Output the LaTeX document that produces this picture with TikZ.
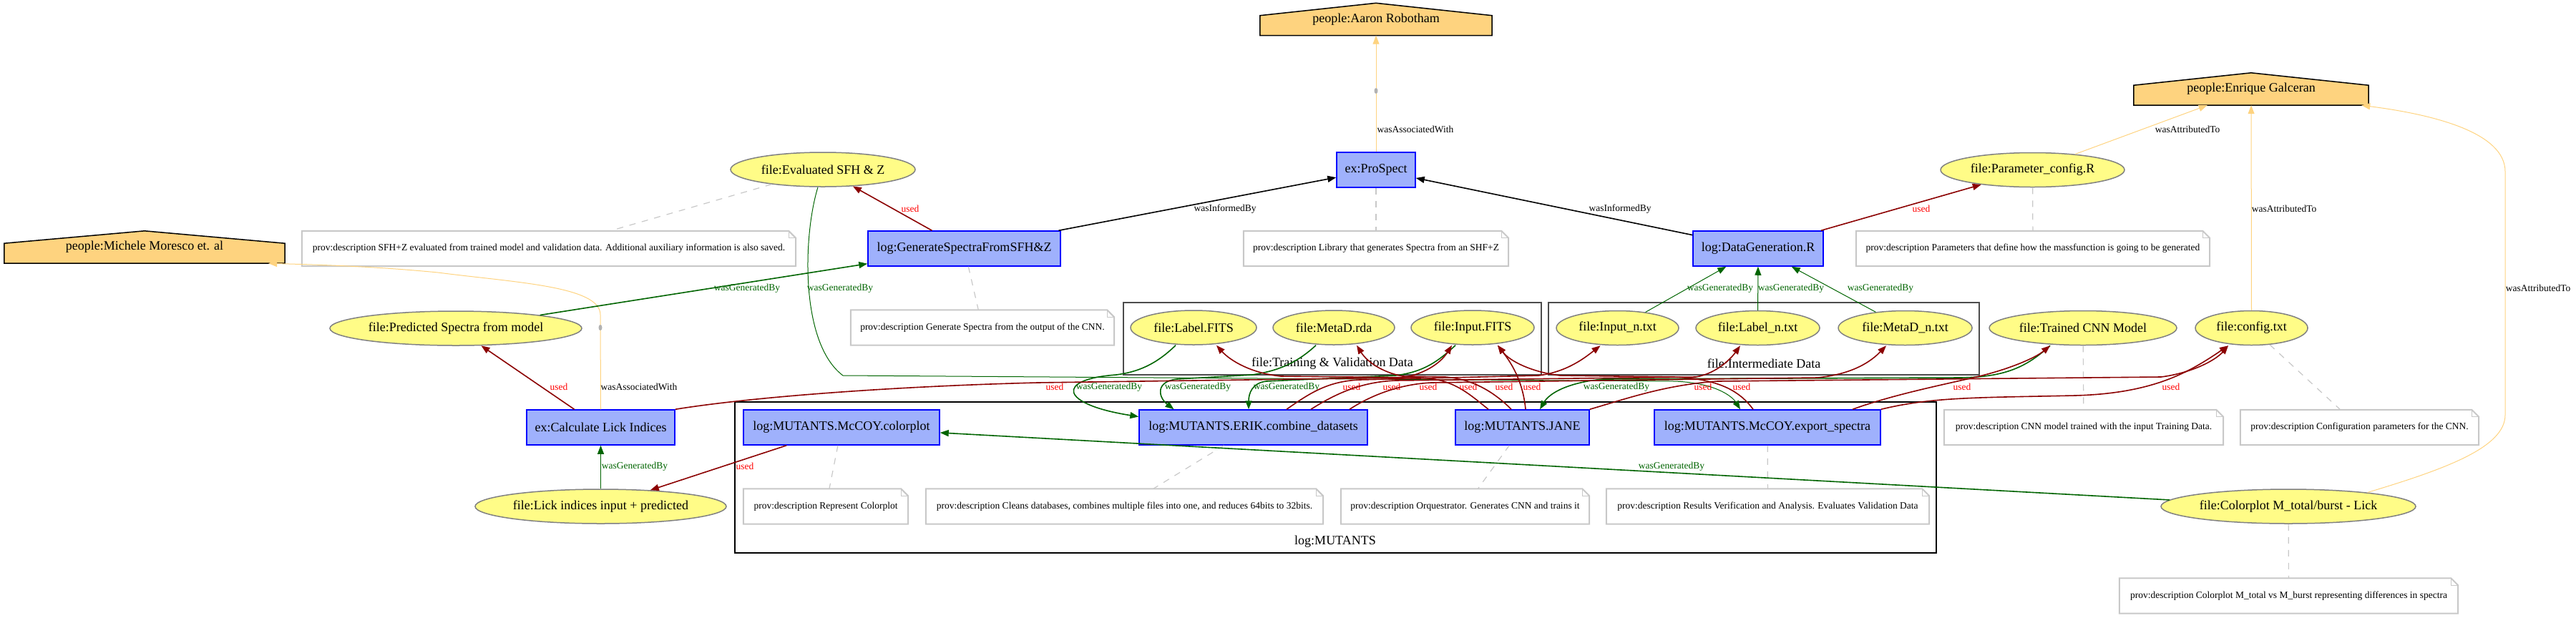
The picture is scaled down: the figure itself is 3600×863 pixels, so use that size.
\documentclass[tikz,border=0pt]{standalone}
\usepackage{fontspec}
\setmainfont{Liberation Serif}
\usetikzlibrary{arrows.meta,shapes.geometric,backgrounds}
\definecolor{actblue}{HTML}{9FB1FC}
\definecolor{entyellow}{HTML}{FFFC87}
\definecolor{agentorange}{HTML}{FED37F}
\definecolor{gendgreen}{HTML}{006400}
\definecolor{usedred}{HTML}{8B0000}
\definecolor{notegray}{HTML}{C8C8C8}
\newcommand{\nodefont}{\fontsize{18}{20}\selectfont}
\newcommand{\lblfont}{\fontsize{13.5}{15}\selectfont}

\begin{document}
\begin{tikzpicture}[
  x=1pt, y=-1pt,
  activity/.style={draw=blue, line width=1.5pt, fill=actblue, minimum height=49pt, inner xsep=8pt, font=\nodefont},
  entity/.style={ellipse, draw=gray, line width=1.5pt, fill=entyellow, minimum height=48pt, inner sep=0pt, font=\nodefont},
  agentbox/.style={minimum height=45pt, inner sep=0pt, font=\nodefont},
  notebox/.style={minimum height=49pt, inner xsep=8pt, font=\lblfont},
  noteline/.style={draw=notegray, line width=2pt},
  noteedge/.style={notegray, dash pattern=on 9pt off 9pt, line width=1.2pt},
  cluster/.style={draw=black!70, line width=2.5pt},
  arr/.style={-{Triangle[length=12pt,width=9pt]}, line width=1.6pt},
  gen/.style={arr, gendgreen},
  used/.style={arr, usedred},
  inf/.style={arr, black},
  assoc/.style={arr, agentorange, line width=1pt},
  glbl/.style={font=\lblfont, text=gendgreen},
  ulbl/.style={font=\lblfont, text=red},
  klbl/.style={font=\lblfont, text=black},
]
  \useasboundingbox (0,0) rectangle (3600,863);

  % Clusters
  \draw[cluster] (1570,423) rectangle (2154,524);
  \node[font=\nodefont] (tvtitle) at (1862,508) {file:Training \& Validation Data};
  \draw[cluster] (2164,423) rectangle (2766,524);
  \node[font=\nodefont] (imtitle) at (2465,508) {file:Intermediate Data};
  \draw[black, line width=2pt] (1027,562) rectangle (2706,773);
  \node[font=\nodefont] (mutitle) at (1866,757) {log:MUTANTS};

  % Agents
  \node[agentbox, minimum width=324pt] (aaron) at (1923,27) {people:Aaron Robotham};
  \node[agentbox, minimum width=328pt] (enrique) at (3146,124.5) {people:Enrique Galceran};
  \node[agentbox, minimum width=392pt] (michele) at (202,345.5) {people:Michele Moresco et. al};
  \begin{scope}[on background layer]
    \foreach \a in {aaron,enrique,michele}
      \filldraw[fill=agentorange, draw=black, line width=1.5pt] (\a.south west) -- ([yshift=28pt]\a.south west) -- (\a.north) -- ([yshift=28pt]\a.south east) -- (\a.south east) -- cycle;
  \end{scope}

  % Activities
  \node[activity, minimum width=110pt] (prospect) at (1923,237.5) {ex:ProSpect};
  \node[activity, minimum width=269pt] (genspec) at (1347.5,347.5) {log:GenerateSpectraFromSFH\&Z};
  \node[activity, minimum width=182pt] (datagen) at (2457,347.5) {log:DataGeneration.R};
  \node[activity, minimum width=207pt] (calclick) at (839.5,597.5) {ex:Calculate Lick Indices};
  \node[activity, minimum width=274pt] (colorplot) at (1176,597.5) {log:MUTANTS.McCOY.colorplot};
  \node[activity, minimum width=319pt] (erik) at (1751.5,597.5) {log:MUTANTS.ERIK.combine\_datasets};
  \node[activity, minimum width=187pt] (jane) at (2127.5,597.5) {log:MUTANTS.JANE};
  \node[activity, minimum width=316pt] (exportsp) at (2470,597.5) {log:MUTANTS.McCOY.export\_spectra};

  % Entities
  \node[entity, minimum width=258pt] (evalsfh) at (1150,237) {file:Evaluated SFH \& Z};
  \node[entity, minimum width=352pt] (predspec) at (637,459) {file:Predicted Spectra from model};
  \node[entity, minimum width=351pt] (lickidx) at (839.5,708) {file:Lick indices input + predicted};
  \node[entity, minimum width=257pt] (paramcfg) at (2840.5,237.5) {file:Parameter\_config.R};
  \node[entity, minimum width=176pt] (labelfits) at (1668,458) {file:Label.FITS};
  \node[entity, minimum width=170pt] (metadrda) at (1864,458) {file:MetaD.rda};
  \node[entity, minimum width=172pt] (inputfits) at (2058,458) {file:Input.FITS};
  \node[entity, minimum width=171pt] (inputn) at (2260.5,458.5) {file:Input\_n.txt};
  \node[entity, minimum width=173pt] (labeln) at (2456.5,458.5) {file:Label\_n.txt};
  \node[entity, minimum width=187pt] (metadn) at (2662.5,458.5) {file:MetaD\_n.txt};
  \node[entity, minimum width=262pt] (trainedcnn) at (2911,458.5) {file:Trained CNN Model};
  \node[entity, minimum width=157pt] (configtxt) at (3146.5,458.5) {file:config.txt};
  \node[entity, minimum width=356pt] (colorplotml) at (3198,708) {file:Colorplot M\_total/burst - Lick};

  % Notes
  \node[notebox, minimum width=690pt] (nsfh) at (767,347.5) {prov:description SFH+Z evaluated from trained model and validation data. Additional auxiliary information is also saved.};
  \node[notebox, minimum width=370pt] (nlib) at (1923,347.5) {prov:description Library that generates Spectra from an SHF+Z};
  \node[notebox, minimum width=368pt] (ngen) at (1373,458) {prov:description Generate Spectra from the output of the CNN.};
  \node[notebox, minimum width=494pt] (nparam) at (2841,347.5) {prov:description Parameters that define how the massfunction is going to be generated};
  \node[notebox, minimum width=230pt] (nrep) at (1154,708) {prov:description Represent Colorplot};
  \node[notebox, minimum width=555pt] (nclean) at (1571.5,708) {prov:description Cleans databases, combines multiple files into one, and reduces 64bits to 32bits.};
  \node[notebox, minimum width=347pt] (norq) at (2047.5,708) {prov:description Orquestrator. Generates CNN and trains it};
  \node[notebox, minimum width=451pt] (nres) at (2470.5,708) {prov:description Results Verification and Analysis. Evaluates Validation Data};
  \node[notebox, minimum width=390pt] (ncnn) at (2912,597.5) {prov:description CNN model trained with the input Training Data.};
  \node[notebox, minimum width=333pt] (nconf) at (3297.5,597.5) {prov:description Configuration parameters for the CNN.};
  \node[notebox, minimum width=473pt] (ncolor) at (3198.5,833) {prov:description Colorplot M\_total vs M\_burst representing differences in spectra};
  \foreach \n in {nsfh,nlib,ngen,nparam,nrep,nclean,norq,nres,ncnn,nconf,ncolor} {
    \draw[noteline] (\n.south west) -- (\n.north west) -- ([xshift=-10pt]\n.north east) -- ([yshift=-10pt]\n.north east) -- (\n.south east) -- cycle;
    \draw[noteline, line width=1pt] ([xshift=-10pt]\n.north east) |- ([yshift=-10pt]\n.north east);
  }
  \foreach \a/\b in {evalsfh/nsfh,prospect/nlib,genspec/ngen,paramcfg/nparam,colorplot/nrep,erik/nclean,jane/norq,exportsp/nres,trainedcnn/ncnn,configtxt/nconf,colorplotml/ncolor}
    \draw[noteedge] (\a) -- (\b);

  % Associations and attributions
  \draw[assoc] (prospect) -- (aaron) node[klbl] at (1978,181) {wasAssociatedWith};
  \fill[gray!60] (1923,127) ellipse (2.5pt and 4pt);
  \draw[assoc] (calclick.north) -- (839,440) .. controls (839,400) and (720,395) .. (612,381) .. controls (520,372) and (440,370) .. ([xshift=-23pt]michele.south east) node[klbl] at (893,541) {wasAssociatedWith};
  \fill[gray!60] (839,458) ellipse (2.5pt and 4pt);
  \draw[assoc] (paramcfg) -- (enrique) node[klbl] at (3057,181) {wasAttributedTo};
  \draw[assoc] (configtxt) -- (enrique) node[klbl] at (3192,292) {wasAttributedTo};
  \draw[assoc] (colorplotml.10) .. controls (3420,655) and (3501,625) .. (3501,580) -- (3501,240) .. controls (3501,185) and (3400,160) .. ([xshift=-10pt]enrique.south east) node[klbl] at (3547,403) {wasAttributedTo};

  % Communication
  \draw[inf] (genspec) -- (prospect) node[klbl] at (1712,292) {wasInformedBy};
  \draw[inf] (datagen) -- (prospect) node[klbl] at (2264,292) {wasInformedBy};

  % Generation
  \draw[gen] (predspec) -- (genspec) node[glbl] at (1044,403) {wasGeneratedBy};
  \draw[gen, line width=1pt] ([xshift=-7pt]evalsfh.south) .. controls (1122,330) and (1118,480) .. (1178,525) -- (2340,533) .. controls (2395,535) and (2420,553) .. ([xshift=-38pt]exportsp.north) node[glbl] at (1174,403) {wasGeneratedBy};
  \draw[gen, line width=1pt] (lickidx) -- (calclick) node[glbl] at (887,652) {wasGeneratedBy};
  \draw[gen] (colorplotml) -- (colorplot) node[glbl] at (2336,652) {wasGeneratedBy};
  \draw[gen, line width=1pt] (inputn) -- (datagen) node[glbl] at (2404,403) {wasGeneratedBy};
  \draw[gen, line width=1pt] (labeln) -- (datagen) node[glbl] at (2503,403) {wasGeneratedBy};
  \draw[gen, line width=1pt] (metadn) -- (datagen) node[glbl] at (2628,403) {wasGeneratedBy};
  \draw[gen] ([xshift=-25pt]labelfits.south) .. controls (1615,510) and (1590,520) .. (1560,524) .. controls (1475,530) and (1480,565) .. ([yshift=15pt]erik.west) node[glbl] at (1550,541) {wasGeneratedBy};
  \draw[gen] ([xshift=-25pt]metadrda.south) .. controls (1815,505) and (1790,518) .. (1750,524) -- (1645,530) .. controls (1615,533) and (1618,555) .. ([xshift=-111pt]erik.north) node[glbl] at (1674,541) {wasGeneratedBy};
  \draw[gen] ([xshift=-24pt]inputfits.south) .. controls (2010,505) and (1990,520) .. (1950,525) -- (1770,533) .. controls (1750,535) and (1745,550) .. ([xshift=-6.5pt]erik.north) node[glbl] at (1798,541) {wasGeneratedBy};
  \draw[gen] ([xshift=-46pt]trainedcnn.south) .. controls (2830,515) and (2800,527) .. (2740,528) -- (2240,530) .. controls (2190,535) and (2165,550) .. ([xshift=24.5pt]jane.north) node[glbl] at (2259,541) {wasGeneratedBy};

  % Usage
  \draw[used] (genspec) -- (evalsfh) node[ulbl] at (1272,292) {used};
  \draw[used] (datagen) -- (paramcfg) node[ulbl] at (2685,292) {used};
  \draw[used] (calclick) -- (predspec) node[ulbl] at (781,541) {used};
  \draw[used] (colorplot) -- (lickidx) node[ulbl] at (1041,652) {used};
  \draw[used] (calclick.north east) .. controls (1050,555) and (1250,540) .. (1450,535) -- (1960,528) .. controls (1995,522) and (2015,505) .. ([xshift=-29pt]inputfits.south) node[ulbl] at (1474,541) {used};
  \draw[used] ([xshift=46.5pt]erik.north) .. controls (1830,550) and (1855,533) .. (1900,531) -- (2150,525) .. controls (2190,520) and (2215,500) .. ([xshift=-24pt]inputn.south) node[ulbl] at (1889,541) {used};
  \draw[used] ([xshift=80.5pt]erik.north) .. controls (1870,548) and (1905,534) .. (1950,532) -- (2370,527) .. controls (2400,522) and (2420,500) .. ([xshift=-24.5pt]labeln.south) node[ulbl] at (1945,541) {used};
  \draw[used] ([xshift=134.5pt]erik.north) .. controls (1920,550) and (1960,537) .. (2000,535) -- (2540,528) .. controls (2590,523) and (2615,505) .. ([xshift=-26.5pt]metadn.south) node[ulbl] at (1996,541) {used};
  \draw[used] ([xshift=-47.5pt]jane.north) .. controls (2050,548) and (2030,530) .. (1985,528) -- (1790,526) .. controls (1750,522) and (1720,505) .. ([xshift=32pt]labelfits.south) node[ulbl] at (2052,541) {used};
  \draw[used] ([xshift=-15.5pt]jane.north) .. controls (2090,550) and (2060,530) .. (2020,527) -- (1960,526) .. controls (1930,520) and (1910,505) .. ([xshift=32pt]metadrda.south) node[ulbl] at (2102,541) {used};
  \draw[used] ([xshift=4.5pt]jane.north) .. controls (2128,530) and (2110,505) .. ([xshift=35pt]inputfits.south) node[ulbl] at (2141,541) {used};
  \draw[used] (jane.north east) .. controls (2280,555) and (2330,538) .. (2400,533) -- (3020,527) .. controls (3060,522) and (3095,505) .. ([xshift=-32.5pt]configtxt.south) node[ulbl] at (2380,541) {used};
  \draw[used] ([xshift=-20pt]exportsp.north) .. controls (2430,545) and (2400,530) .. (2340,527) -- (2180,525) .. controls (2140,520) and (2110,505) .. ([xshift=35pt]inputfits.south) node[ulbl] at (2434,541) {used};
  \draw[used] ([xshift=119pt]exportsp.north) .. controls (2650,550) and (2730,535) .. (2770,525) .. controls (2810,515) and (2845,500) .. ([xshift=-46pt]trainedcnn.south) node[ulbl] at (2742,541) {used};
  \draw[used] (exportsp.north east) .. controls (2700,555) and (2760,556) .. (2900,553) .. controls (3010,550) and (3060,520) .. ([xshift=-32.5pt]configtxt.south) node[ulbl] at (3034,541) {used};
\end{tikzpicture}
\end{document}
